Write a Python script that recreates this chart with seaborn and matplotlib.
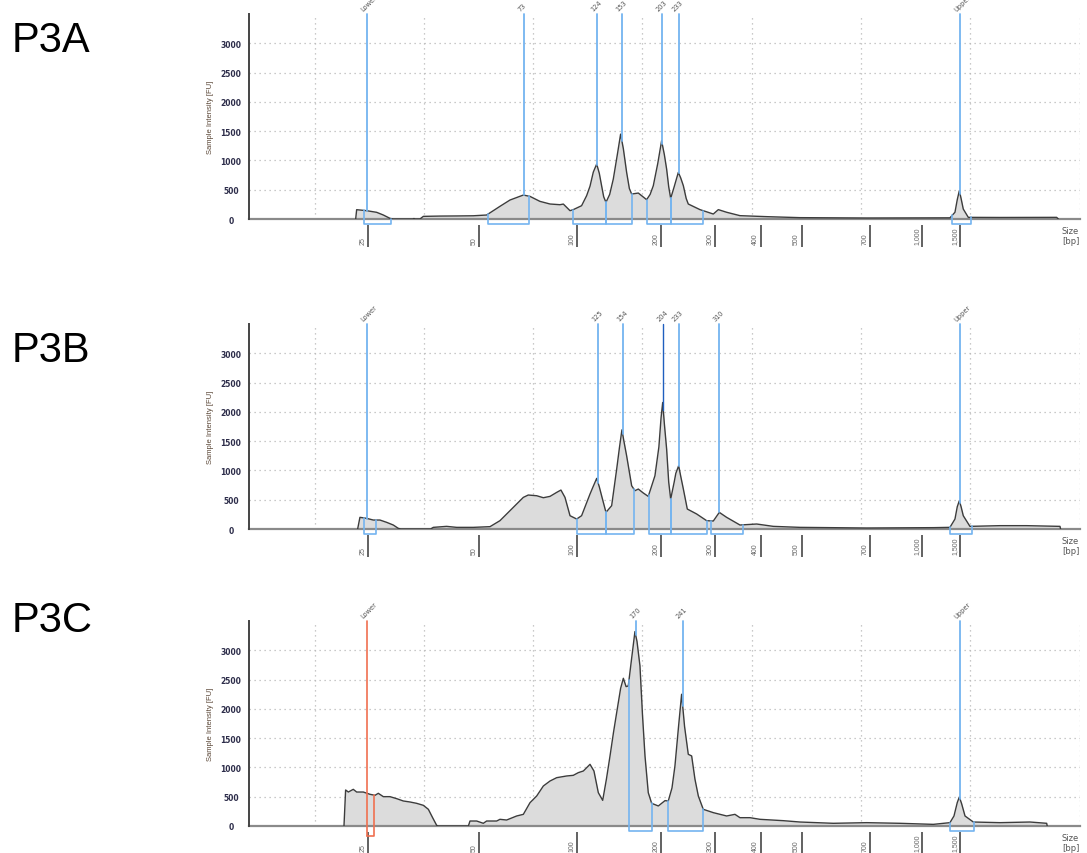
import numpy as np
import pandas as pd
import matplotlib
matplotlib.use("Agg")
import matplotlib.pyplot as plt
import matplotlib.transforms as mtransforms
from matplotlib.ticker import MultipleLocator
import seaborn as sns

# ---------------- data (migration time [s] vs. fluorescence [FU]) ----------------
a_time = [23.76, 23.85, 24.76, 25.68, 26.29, 26.90, 27.20, 28.97, 29.09, 29.21, 29.64, 29.95,
          31.47, 33.00, 34.52, 35.74, 36.96, 37.88, 39.10, 39.71, 40.62, 41.54, 42.45, 42.76,
          43.37, 43.67, 44.43, 44.89, 45.20, 45.50, 45.81, 46.05, 46.26, 46.45, 46.66, 47.00,
          47.33, 47.70, 48.00, 48.25, 48.55, 48.80, 49.01, 49.62, 50.38, 50.70, 50.99, 51.40,
          51.75, 52.00, 52.21, 52.40, 52.58, 52.90, 53.28, 53.50, 53.74, 54.00, 54.19, 55.26,
          56.48, 56.94, 57.70, 58.92, 61.36, 64.41, 70.51, 78.13, 78.59, 78.80, 78.99, 79.15,
          79.35, 79.81, 82.71, 87.89, 88.05]
a_fu = [0, 159, 142, 114, 68, 11, 0, 0, 8, 0, 0, 45,
        50, 52, 55, 68, 216, 324, 409, 386, 301, 256, 244, 255,
        142, 160, 227, 398, 560, 800, 938, 780, 568, 380, 284, 420,
        682, 1100, 1449, 1200, 796, 520, 426, 443, 330, 420, 568, 950,
        1335, 1100, 852, 550, 352, 550, 796, 700, 568, 350, 256, 160,
        85, 160, 115, 57, 40, 23, 17, 20, 115, 330, 483, 350,
        170, 28, 26, 28, 0]

b_time = [23.94, 24.15, 24.76, 25.37, 25.98, 26.59, 27.20, 27.66, 27.88, 30.62, 30.86, 32.08,
          33.00, 34.52, 36.05, 36.96, 37.88, 39.10, 39.55, 40.32, 40.93, 41.54, 42.15, 42.54,
          42.91, 43.37, 43.98, 44.43, 45.20, 45.50, 45.81, 46.05, 46.26, 46.66, 47.18, 47.64,
          47.90, 48.12, 48.30, 48.55, 49.01, 49.31, 49.62, 50.08, 50.53, 51.14, 51.50, 51.70,
          51.85, 52.00, 52.21, 52.40, 52.58, 52.90, 53.05, 53.31, 53.50, 53.74, 54.10, 54.96,
          55.87, 56.48, 57.03, 57.70, 58.92, 60.45, 61.97, 64.41, 70.51, 76.61, 78.13, 78.59,
          78.80, 78.99, 79.15, 79.35, 79.96, 82.71, 85.15, 88.20, 88.25]
b_fu = [0, 199, 182, 153, 153, 114, 68, 11, 0, 0, 28, 45,
        28, 28, 40, 142, 313, 540, 580, 568, 534, 557, 625, 665,
        540, 227, 170, 227, 597, 730, 864, 720, 568, 284, 398, 1023,
        1400, 1693, 1500, 1250, 739, 654, 682, 614, 557, 909, 1400, 1900,
        2160, 1800, 1364, 800, 511, 800, 950, 1080, 900, 682, 341, 256,
        142, 136, 284, 199, 68, 85, 45, 28, 17, 23, 28, 170,
        380, 483, 380, 227, 45, 57, 57, 45, 0]

c_time = [22.69, 22.84, 23.09, 23.54, 23.85, 24.46, 25.07, 25.53, 25.83, 26.29, 26.90, 27.51,
          28.12, 28.73, 29.34, 29.95, 30.41, 30.80, 31.17, 31.32, 34.07, 34.22, 34.83, 35.44,
          35.74, 36.66, 36.96, 37.57, 38.49, 39.10, 39.71, 40.32, 40.93, 41.54, 42.15, 43.06,
          43.67, 44.13, 44.59, 45.20, 45.56, 45.96, 46.36, 46.70, 47.03, 47.35, 47.64, 48.00,
          48.25, 48.50, 48.70, 49.00, 49.31, 49.50, 49.77, 50.00, 50.23, 50.53, 50.84, 51.45,
          52.06, 52.36, 52.70, 52.97, 53.30, 53.58, 53.85, 54.19, 54.50, 54.80, 55.11, 55.56,
          56.48, 57.70, 58.46, 58.92, 59.84, 60.75, 62.88, 64.41, 67.46, 70.51, 73.56, 76.61,
          78.13, 78.50, 78.80, 78.99, 79.20, 79.51, 80.27, 82.71, 85.45, 86.98, 87.03]
c_fu = [0, 615, 580, 626, 580, 580, 541, 524, 558, 501, 501, 467,
        427, 410, 387, 353, 285, 142, 11, 0, 0, 85, 85, 46,
        85, 85, 114, 102, 171, 199, 398, 512, 683, 768, 825, 854,
        865, 911, 939, 1053, 939, 569, 438, 800, 1196, 1600, 1936, 2350,
        2522, 2380, 2391, 2850, 3319, 3150, 2733, 1900, 1196, 569, 387, 342,
        433, 427, 650, 1025, 1700, 2249, 1700, 1224, 1196, 800, 512, 285,
        228, 171, 199, 142, 142, 114, 91, 68, 46, 57, 46, 28,
        57, 171, 400, 495, 380, 171, 68, 57, 68, 46, 0]

# peak markers
a_peak_labels = ["Lower", "73", "124", "153", "203", "233", "Upper"]
a_peak_time = [24.82, 39.16, 45.84, 48.12, 51.81, 53.31, 79.05]
b_peak_labels = ["Lower", "125", "154", "204", "233", "310", "Upper"]
b_peak_time = [24.82, 45.93, 48.18, 51.90, 53.31, 57.03, 79.05]
c_peak_labels = ["Lower", "170", "241", "Upper"]
c_peak_time = [24.82, 49.38, 53.68, 79.05]

# integration windows (start, end)
a_windows = [(24.51, 26.99), (35.84, 39.64), (43.61, 46.66), (46.66, 49.07),
             (50.38, 52.58), (52.58, 55.56), (78.34, 80.08)]
b_windows = [(24.51, 25.59), (44.04, 46.66), (46.66, 49.22), (50.57, 52.58),
             (52.58, 55.93), (56.29, 59.17), (78.13, 80.18)]
c_windows = [(24.82, 25.46), (48.77, 50.84), (52.36, 55.56), (78.13, 80.33)]

# ladder (bp) positions on the time axis
ladder_time = [24.89, 35.07, 44.04, 51.66, 56.66, 60.81, 64.56, 70.84, 75.60, 79.05]
ladder_labels = ["25", "50", "100", "200", "300", "400", "500", "700", "1,000", "1,500"]

panel_names = ["P3A", "P3B", "P3C"]
grid_time = [20, 30, 40, 50, 60, 70, 80, 90]
y_ticks = [0, 500, 1000, 1500, 2000, 2500, 3000]

# ---------------- styling ----------------
sns.set_style("white")
plt.rcParams["font.family"] = ["DejaVu Sans"]

W, H = 1087, 854
fig = plt.figure(figsize=(W / 100, H / 100), dpi=100)

BLUE = "#74b4f0"
DARK_BLUE = "#1f5fbf"
RED = "#f07050"
CURVE = "#3c3c3c"
FILL = "#dcdcdc"

x_min, x_max = 14.0, 90.0
px_per_s = 10.93
ax_left = 249
ax_w = (x_max - x_min) * px_per_s
ax_h = 205
zero_px = [220, 530, 827]
name_base_px = [52, 362, 632]

panels = [
    (a_time, a_fu, a_peak_labels, a_peak_time, a_windows, False, []),
    (b_time, b_fu, b_peak_labels, b_peak_time, b_windows, False, ["204"]),
    (c_time, c_fu, c_peak_labels, c_peak_time, c_windows, True, []),
]

for i, (t, fu, plabels, ptime, windows, red_lower, dark) in enumerate(panels):
    zp = zero_px[i]
    ax = fig.add_axes([ax_left / W, 1 - zp / H, ax_w / W, ax_h / H])
    df = pd.DataFrame({"time": t, "fu": fu})
    ax.set_axisbelow(True)

    ax.fill_between(df["time"], df["fu"], 0, color=FILL, zorder=1, linewidth=0)
    sns.lineplot(data=df, x="time", y="fu", ax=ax, color=CURVE, linewidth=1.0,
                 estimator=None, sort=False, zorder=3)

    ax.set_xlim(x_min, x_max)
    ax.set_ylim(0, 3500)
    ax.set_xlabel("")
    ax.set_ylabel("")

    # grid
    ax.set_xticks(grid_time)
    ax.set_yticks(y_ticks)
    ax.yaxis.set_minor_locator(MultipleLocator(100))
    ax.grid(True, which="major", color="#b8b8b8", linestyle=(0, (1, 3)), linewidth=0.9)
    ax.tick_params(axis="x", length=0, labelbottom=False)
    ax.tick_params(axis="y", which="major", direction="out", length=2.4, width=0.9,
                   color="#444444", labelsize=5.5, labelcolor="#2d2d4a", pad=10.5)
    ax.tick_params(axis="y", which="minor", direction="out", length=1.5, width=0.8,
                   color="#444444")
    ax.set_yticklabels([str(v) for v in y_ticks], fontweight="bold")
    for lbl in ax.get_yticklabels():
        lbl.set_horizontalalignment("center")

    for s in ["top", "right"]:
        ax.spines[s].set_visible(False)
    ax.spines["left"].set_color("#444444")
    ax.spines["left"].set_linewidth(1.4)
    ax.spines["bottom"].set_color("#8a8a8a")
    ax.spines["bottom"].set_linewidth(1.6)
    ax.spines["bottom"].set_zorder(2)

    # peak marker lines + labels
    xt = ax.get_xaxis_transform()
    lab_tr = mtransforms.offset_copy(xt, fig=fig, x=-3, y=2, units="dots")
    for lab, pt in zip(plabels, ptime):
        yc = float(np.interp(pt, df["time"], df["fu"]))
        if lab == "Lower" and red_lower:
            ax.plot([pt, pt], [-170, 3500], color=RED, lw=1.2, clip_on=False, zorder=4)
        else:
            col = DARK_BLUE if lab in dark else BLUE
            lw = 1.0 if lab in dark else 1.3
            ax.plot([pt, pt], [yc, 3500], color=col, lw=lw, clip_on=False, zorder=4)
        ax.text(pt, 1.0, lab, transform=lab_tr, rotation=45, rotation_mode="anchor",
                ha="left", va="bottom", fontsize=4.8, color="#555555")

    # integration windows
    for k, (t0, t1) in enumerate(windows):
        y0 = float(np.interp(t0, df["time"], df["fu"]))
        y1 = float(np.interp(t1, df["time"], df["fu"]))
        if red_lower and k == 0:
            ax.plot([t0, t1, t1], [-170, -170, y1], color=RED, lw=1.2,
                    clip_on=False, zorder=4)
        else:
            ax.plot([t0, t0, t1, t1], [y0, -85, -85, y1], color=BLUE, lw=1.2,
                    clip_on=False, zorder=4)

    # ladder ticks below the axis
    ax.vlines(ladder_time, -6 / ax_h, -28 / ax_h, transform=xt, colors="#555555",
              linewidth=1.3, clip_on=False)
    tick_tr = mtransforms.offset_copy(xt, fig=fig, x=-1.5, y=0, units="dots")
    for lt, ll in zip(ladder_time, ladder_labels):
        ax.text(lt, -25 / ax_h, ll, transform=tick_tr, rotation=90, ha="right",
                va="bottom", fontsize=5, color="#666666",
                family=["Liberation Sans", "DejaVu Sans"])
    ax.text((1062 - ax_left) / ax_w, -7 / ax_h, "Size\n[bp]", transform=ax.transAxes,
            ha="left", va="top", fontsize=6, color="#555555", linespacing=1.15)

    ax.text((210 - ax_left) / ax_w, 0.5, "Sample Intensity [FU]", transform=ax.transAxes,
            rotation=90, ha="center", va="center", fontsize=5.5, color="#5a4636",
            family=["Liberation Sans Narrow", "Liberation Sans", "DejaVu Sans"])

    fig.text(12 / W, 1 - name_base_px[i] / H, panel_names[i], fontsize=30,
             ha="left", va="baseline", color="black",
             family=["Liberation Sans", "DejaVu Sans"])

fig.savefig("out.png", dpi=100)
